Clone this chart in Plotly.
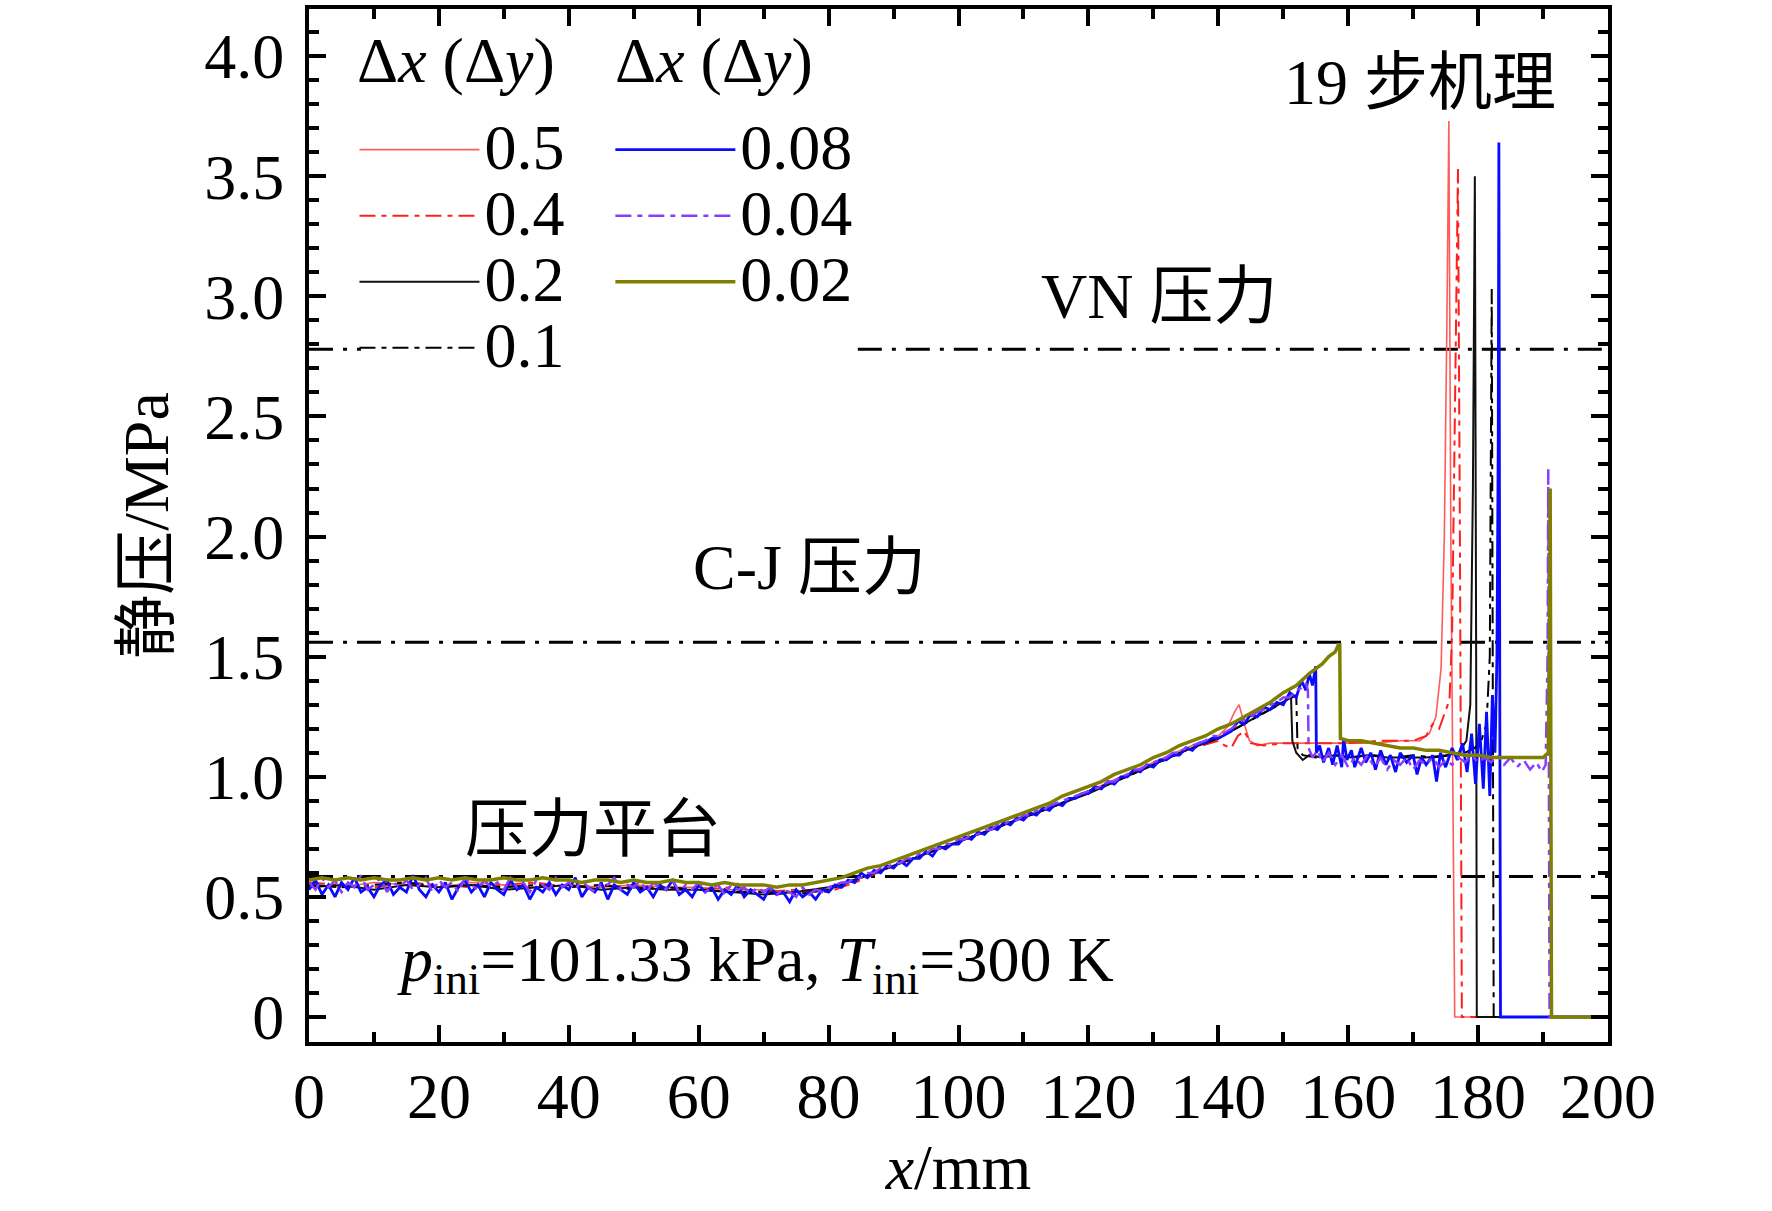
import plotly.graph_objects as go

# shared x grids (mm)
x_fine1 = [0, 1, 2, 3, 4, 5, 6, 7, 8, 9, 10, 11, 12, 13, 14, 15, 16, 17, 18, 19,
           20, 21, 22, 23, 24, 25, 26, 27, 28, 29, 30, 31, 32, 33, 34, 35, 36, 37, 38, 39,
           40, 41, 42, 43, 44, 45, 46, 47, 48, 49, 50, 51, 52, 53, 54, 55, 56, 57, 58, 59,
           60, 61, 62, 63, 64, 65, 66, 67, 68, 69, 70, 71, 72, 73, 74, 75, 76, 77, 78, 79,
           80, 81, 82, 83, 84, 85, 86, 87, 88, 89, 90, 91, 92, 93, 94, 95, 96, 97, 98, 99,
           100, 101, 102, 103, 104, 105, 106, 107, 108, 109, 110, 111, 112, 113, 114, 115, 116, 117, 118, 119,
           120, 121, 122, 123, 124, 125, 126, 127, 128, 129, 130, 131, 132, 133, 134, 135, 136, 137, 138, 139,
           140]
x_fine = [0, 2, 4, 6, 8, 10, 12, 14, 16, 18, 20, 22, 24, 26, 28, 30, 32, 34, 36, 38,
          40, 42, 44, 46, 48, 50, 52, 54, 56, 58, 60, 62, 64, 66, 68, 70, 72, 74, 76, 78,
          80, 82, 84, 86, 88, 90, 92, 94, 96, 98, 100, 102, 104, 106, 108, 110, 112, 114, 116, 118,
          120, 122, 124, 126, 128, 130, 132, 134, 136, 138, 140]
x_coarse = [0, 5, 10, 15, 20, 25, 30, 35, 40, 45, 50, 55, 60, 65, 70, 75, 80, 85, 90, 95,
            100, 105, 110, 115, 120, 125, 130, 135, 140]

# dx = 0.5 (red, solid)
p05_head = [0.55, 0.54, 0.56, 0.55, 0.54, 0.56, 0.55, 0.54, 0.55, 0.54,
            0.55, 0.54, 0.54, 0.53, 0.53, 0.52, 0.53, 0.58, 0.63, 0.68,
            0.73, 0.78, 0.83, 0.88, 0.94, 1.00, 1.06, 1.12, 1.17]
x05_tail = [141.5, 142.5, 143.2, 144, 144.8, 146, 148, 152, 156, 160, 164, 168, 171,
            172.5, 173.5, 174.3, 174.8, 175.2, 175.5, 175.8, 176.2, 176.4, 197.5]
p05_tail = [1.21, 1.27, 1.30, 1.22, 1.15, 1.13, 1.14, 1.14, 1.14, 1.14, 1.14, 1.15, 1.15,
            1.18, 1.25, 1.45, 2.0, 2.9, 3.73, 2.0, 0.6, 0, 0]

# dx = 0.4 (red, dash-dot)
p04_head = [0.56, 0.55, 0.54, 0.56, 0.55, 0.54, 0.55, 0.56, 0.54, 0.55,
            0.54, 0.54, 0.53, 0.54, 0.52, 0.53, 0.52, 0.57, 0.63, 0.68,
            0.73, 0.78, 0.83, 0.88, 0.94, 0.99, 1.05, 1.11, 1.15]
x04_tail = [141, 142, 143, 144, 145, 147, 150, 155, 160, 165, 170, 172, 173, 174, 175,
            175.6, 176.0, 176.4, 176.9, 177.2, 177.5, 197.5]
p04_tail = [1.13, 1.12, 1.17, 1.19, 1.14, 1.13, 1.14, 1.14, 1.14, 1.15, 1.15, 1.17, 1.22, 1.20, 1.27,
            1.32, 1.6, 2.5, 3.53, 2.0, 0, 0]

# dx = 0.2 (black, solid)
p02_head = [0.54, 0.55, 0.53, 0.55, 0.54, 0.55, 0.53, 0.54, 0.55, 0.53,
            0.54, 0.53, 0.53, 0.52, 0.51, 0.52, 0.54, 0.58, 0.63, 0.68,
            0.73, 0.78, 0.83, 0.88, 0.93, 0.99, 1.05, 1.11, 1.16]
x02_tail = [142, 144, 146, 148, 150, 151.2, 151.4, 152, 153, 154, 156, 158, 160, 163, 166, 169,
            172, 175, 177, 178.2, 178.8, 179.2, 179.5, 179.7, 179.8, 197.5]
p02_tail = [1.19, 1.22, 1.25, 1.28, 1.31, 1.33, 1.15, 1.10, 1.07, 1.09, 1.08, 1.09, 1.08, 1.09, 1.08, 1.08,
            1.08, 1.09, 1.10, 1.15, 1.3, 2.2, 3.50, 1.5, 0, 0]

# dx = 0.1 (black, dash-dot)
p01_head = [0.55, 0.54, 0.55, 0.56, 0.54, 0.55, 0.54, 0.55, 0.54, 0.55,
            0.53, 0.54, 0.53, 0.52, 0.52, 0.51, 0.53, 0.58, 0.63, 0.68,
            0.73, 0.78, 0.83, 0.88, 0.94, 0.99, 1.05, 1.11, 1.16]
x01_tail = [142, 144, 146, 148, 150, 152, 152.2, 153, 155, 158, 161, 164, 167, 170, 173, 176,
            178, 179.5, 180.5, 181.3, 181.8, 182.0, 182.1, 182.3, 182.4, 197.5]
p01_tail = [1.19, 1.22, 1.25, 1.28, 1.31, 1.34, 1.12, 1.09, 1.08, 1.09, 1.08, 1.09, 1.08, 1.09, 1.08, 1.09,
            1.10, 1.12, 1.15, 1.22, 1.5, 2.4, 3.03, 1.0, 0, 0]

# dx = 0.08 (blue)
p008_head = [0.53, 0.57, 0.51, 0.55, 0.50, 0.56, 0.53, 0.58, 0.52, 0.54,
             0.50, 0.55, 0.57, 0.51, 0.54, 0.52, 0.59, 0.53, 0.50, 0.55,
             0.52, 0.56, 0.49, 0.54, 0.57, 0.52, 0.55, 0.50, 0.56, 0.53,
             0.51, 0.57, 0.53, 0.55, 0.49, 0.54, 0.52, 0.56, 0.51, 0.55,
             0.53, 0.58, 0.50, 0.54, 0.52, 0.56, 0.49, 0.55, 0.53, 0.51,
             0.56, 0.52, 0.54, 0.50, 0.55, 0.53, 0.57, 0.51, 0.53, 0.50,
             0.55, 0.52, 0.54, 0.49, 0.53, 0.51, 0.55, 0.50, 0.53, 0.51,
             0.49, 0.54, 0.51, 0.52, 0.48, 0.53, 0.50, 0.52, 0.49, 0.53,
             0.52, 0.55, 0.54, 0.57, 0.56, 0.60, 0.58, 0.61, 0.60, 0.63,
             0.62, 0.65, 0.63, 0.66, 0.66, 0.69, 0.67, 0.71, 0.70, 0.72,
             0.72, 0.75, 0.74, 0.77, 0.76, 0.79, 0.78, 0.81, 0.80, 0.83,
             0.82, 0.85, 0.84, 0.87, 0.86, 0.89, 0.88, 0.91, 0.91, 0.93,
             0.93, 0.96, 0.95, 0.98, 0.97, 1.00, 1.00, 1.03, 1.02, 1.05,
             1.04, 1.07, 1.07, 1.09, 1.09, 1.12, 1.11, 1.14, 1.14, 1.16,
             1.16]
x008_tail = [142, 143, 144, 145, 146, 147, 148, 149, 150, 151, 152, 152.8, 153.5, 154, 154.5, 155,
             155.1, 155.6, 156.2, 157, 157.6, 158.3, 159, 159.3, 159.8, 160.5, 161, 162, 162.7, 163.5,
             164.2, 165, 165.8, 166.5, 167.3, 168, 169, 170, 170.6, 171.3, 172, 173, 173.6, 174.2,
             175, 176, 176.8, 177.6, 178.3, 179, 179.6, 180.2, 180.8, 181.3, 181.8, 182.2, 182.6,
             182.9, 183.1, 183.2, 183.35, 183.45, 197.5]
p008_tail = [1.19, 1.23, 1.22, 1.26, 1.25, 1.29, 1.28, 1.31, 1.30, 1.35, 1.33, 1.40, 1.36, 1.43, 1.38, 1.46,
             1.10, 1.13, 1.06, 1.12, 1.05, 1.13, 1.04, 1.16, 1.07, 1.11, 1.04, 1.12, 1.06, 1.10,
             1.03, 1.11, 1.05, 1.09, 1.02, 1.10, 1.06, 1.09, 1.01, 1.08, 1.05, 1.09, 0.98, 1.10,
             1.04, 1.12, 1.07, 1.14, 1.02, 1.18, 0.97, 1.22, 0.95, 1.27, 0.92, 1.34, 1.10,
             1.50, 2.4, 3.64, 1.2, 0, 0]

# dx = 0.04 (purple, dash-dot)
p004_head = [0.56, 0.53, 0.58, 0.54, 0.57, 0.52, 0.56, 0.54, 0.59, 0.53,
             0.55, 0.58, 0.52, 0.56, 0.54, 0.57, 0.53, 0.55, 0.58, 0.52,
             0.57, 0.54, 0.56, 0.52, 0.58, 0.55, 0.53, 0.57, 0.54, 0.56,
             0.53, 0.58, 0.54, 0.56, 0.52, 0.57, 0.55, 0.53, 0.58, 0.54,
             0.56, 0.53, 0.57, 0.54, 0.52, 0.56, 0.55, 0.58, 0.53, 0.55,
             0.54, 0.57, 0.52, 0.56, 0.54, 0.53, 0.57, 0.52, 0.55, 0.53,
             0.56, 0.52, 0.54, 0.55, 0.51, 0.55, 0.53, 0.54, 0.51, 0.54,
             0.52, 0.54, 0.51, 0.53, 0.52, 0.50, 0.54, 0.51, 0.53, 0.52,
             0.54, 0.55, 0.56, 0.56, 0.58, 0.58, 0.60, 0.60, 0.62, 0.62,
             0.64, 0.64, 0.66, 0.66, 0.68, 0.68, 0.70, 0.70, 0.72, 0.72,
             0.74, 0.74, 0.76, 0.76, 0.78, 0.78, 0.80, 0.80, 0.82, 0.82,
             0.84, 0.84, 0.86, 0.86, 0.88, 0.89, 0.90, 0.91, 0.92, 0.93,
             0.94, 0.95, 0.96, 0.98, 0.98, 1.00, 1.01, 1.03, 1.03, 1.05,
             1.06, 1.07, 1.08, 1.10, 1.10, 1.12, 1.13, 1.14, 1.15, 1.17,
             1.17]
x004_tail = [142, 143, 144, 145, 146, 147, 148, 149, 150, 151, 152, 152.8, 153.5, 153.8, 153.9,
             154.5, 155.3, 156, 157, 158, 159, 160, 161, 162, 163, 164, 165, 166, 167, 168, 169,
             170, 171, 172, 173, 174, 175, 176, 177, 178, 179, 180, 181, 182, 183, 184, 185, 186,
             187, 188, 189, 189.8, 190.4, 190.7, 190.8, 190.9, 191.0, 197.5]
p004_tail = [1.20, 1.22, 1.24, 1.25, 1.27, 1.28, 1.30, 1.31, 1.33, 1.33, 1.36, 1.37, 1.39, 1.36, 1.12,
             1.08, 1.11, 1.06, 1.10, 1.05, 1.09, 1.04, 1.08, 1.05, 1.09, 1.04, 1.08, 1.03, 1.07, 1.05, 1.08,
             1.03, 1.07, 1.05, 1.08, 1.04, 1.07, 1.05, 1.08, 1.06, 1.09, 1.06, 1.08, 1.06, 1.09, 1.05, 1.08, 1.04,
             1.07, 1.03, 1.06, 1.02, 1.05, 1.5, 2.28, 1.0, 0, 0]

# dx = 0.02 (olive)
p002_head = [0.57, 0.58, 0.57, 0.58, 0.57, 0.58, 0.57, 0.57, 0.58, 0.57,
             0.58, 0.57, 0.58, 0.57, 0.57, 0.58, 0.57, 0.57, 0.58, 0.57,
             0.57, 0.56, 0.57, 0.57, 0.56, 0.57, 0.56, 0.56, 0.57, 0.56,
             0.56, 0.55, 0.56, 0.55, 0.55, 0.55, 0.54, 0.55, 0.55, 0.56,
             0.57, 0.58, 0.60, 0.62, 0.63, 0.65, 0.67, 0.69, 0.71, 0.73,
             0.75, 0.77, 0.79, 0.81, 0.83, 0.85, 0.87, 0.89, 0.92, 0.94,
             0.96, 0.98, 1.01, 1.03, 1.05, 1.08, 1.10, 1.13, 1.15, 1.17,
             1.20]
x002_tail = [142, 144, 146, 148, 150, 152, 154, 155, 156, 157, 158, 158.5, 158.7, 158.8, 160, 162,
             164, 166, 168, 170, 172, 174, 176, 178, 180, 182, 184, 186, 188, 190, 190.8, 191.0,
             191.1, 191.2, 191.3, 197.5]
p002_tail = [1.22, 1.25, 1.28, 1.31, 1.35, 1.38, 1.43, 1.45, 1.47, 1.50, 1.52, 1.55, 1.55, 1.16, 1.15, 1.15,
             1.14, 1.13, 1.12, 1.12, 1.11, 1.11, 1.10, 1.09, 1.09, 1.08, 1.08, 1.08, 1.08, 1.08, 1.10, 1.6,
             2.20, 1.5, 0, 0]

# reference pressure levels (MPa); the VN line is hidden behind the legend in the middle
vn_x = [0, 8, None, 84.5, 200]
vn_p = [2.78, 2.78, None, 2.78, 2.78]
cj_x = [0, 200]
cj_p = [1.56, 1.56]
plat_x = [0, 200]
plat_p = [0.585, 0.585]

y_tick_vals = [0, 0.5, 1.0, 1.5, 2.0, 2.5, 3.0, 3.5, 4.0]
y_tick_text = ["0", "0.5", "1.0", "1.5", "2.0", "2.5", "3.0", "3.5", "4.0"]

for h, t, grid in [(p05_head, p05_tail, x_coarse), (p04_head, p04_tail, x_coarse),
                   (p02_head, p02_tail, x_coarse), (p01_head, p01_tail, x_coarse),
                   (p008_head, p008_tail, x_fine1), (p004_head, p004_tail, x_fine1),
                   (p002_head, p002_tail, x_fine)]:
    assert len(h) == len(grid), (len(h), len(grid))
assert len(x05_tail) == len(p05_tail)
assert len(x04_tail) == len(p04_tail)
assert len(x02_tail) == len(p02_tail)
assert len(x01_tail) == len(p01_tail)
assert len(x008_tail) == len(p008_tail), (len(x008_tail), len(p008_tail))
assert len(x004_tail) == len(p004_tail), (len(x004_tail), len(p004_tail))
assert len(x002_tail) == len(p002_tail), (len(x002_tail), len(p002_tail))

SERIF = "Liberation Serif, Times New Roman, Noto Sans CJK SC, serif"
FS = 64
BIG = '<span style="font-size:64px">%s</span>'
dashdot = "16px,6px,5px,6px"

fig = go.Figure()

# reference levels first so the curves sit on top
for xs, ys in [(vn_x, vn_p), (cj_x, cj_p), (plat_x, plat_p)]:
    fig.add_trace(go.Scatter(x=xs, y=ys, mode="lines", showlegend=False, hoverinfo="skip",
                             line=dict(color="black", width=3, dash="24px,10px,4px,10px")))

series = [
    ("0.5", x_coarse + x05_tail, p05_head + p05_tail, "#ff5c5c", "solid", 1.6, "legend"),
    ("0.4", x_coarse + x04_tail, p04_head + p04_tail, "#ff1f1f", dashdot, 2, "legend"),
    ("0.2", x_coarse + x02_tail, p02_head + p02_tail, "#111111", "solid", 2, "legend"),
    ("0.1", x_coarse + x01_tail, p01_head + p01_tail, "#000000", dashdot, 2, "legend"),
    ("0.08", x_fine1 + x008_tail, p008_head + p008_tail, "#0a0aff", "solid", 2.8, "legend2"),
    ("0.04", x_fine1 + x004_tail, p004_head + p004_tail, "#8a3cff", dashdot, 2.5, "legend2"),
    ("0.02", x_fine + x002_tail, p002_head + p002_tail, "#808000", "solid", 3.5, "legend2"),
]
for name, xs, ys, col, dash, w, lg in series:
    fig.add_trace(go.Scatter(x=xs, y=ys, mode="lines", name=BIG % name, legend=lg,
                             line=dict(color=col, width=w, dash=dash)))

common_legend = dict(yanchor="top", xanchor="left", bgcolor="rgba(255,255,255,0)",
                     font=dict(family=SERIF, size=48.5, color="black"), itemwidth=120)

fig.update_layout(
    width=1772, height=1211, autosize=False,
    margin=dict(l=309, r=164, t=5, b=169),
    plot_bgcolor="white", paper_bgcolor="white",
    font=dict(family=SERIF, size=FS, color="black"),
    legend=dict(x=0.035, y=0.9007, **common_legend),
    legend2=dict(x=0.232, y=0.9007, **common_legend),
)

fig.update_xaxes(
    range=[0, 200], tickmode="linear", tick0=0, dtick=20,
    ticks="inside", ticklen=17, tickwidth=3.5, tickcolor="black",
    minor=dict(ticks="inside", ticklen=10, tickwidth=3.5, dtick=10, tickcolor="black"),
    showline=True, linewidth=4, linecolor="black", mirror="ticks",
    showgrid=False, zeroline=False, ticklabelstandoff=-5,
    tickfont=dict(family=SERIF, size=FS),
    title=dict(text="<i>x</i>/mm", font=dict(family=SERIF, size=FS), standoff=8),
)
fig.update_yaxes(
    range=[-0.104, 4.196], tickvals=y_tick_vals, ticktext=y_tick_text,
    ticks="inside", ticklen=17, tickwidth=3.5, tickcolor="black",
    minor=dict(ticks="inside", ticklen=10, tickwidth=3.5, dtick=0.1, tick0=0, tickcolor="black"),
    showline=True, linewidth=4, linecolor="black", mirror="ticks",
    showgrid=False, zeroline=False, ticklabelstandoff=8,
    tickfont=dict(family=SERIF, size=FS),
    title=dict(text="静压/MPa", font=dict(family=SERIF, size=FS), standoff=16),
)

# legend column headers
for hx in [0.0355, 0.234]:
    fig.add_annotation(x=hx, y=0.9497, xref="paper", yref="paper", text="Δ<i>x</i> (Δ<i>y</i>)",
                       showarrow=False, xanchor="left", yanchor="middle",
                       font=dict(family=SERIF, size=FS, color="black"))

notes = [
    (171.1, 3.89, "19 步机理"),
    (130.9, 3.0, "VN 压力"),
    (77.0, 1.87, "C-J 压力"),
    (43.7, 0.78, "压力平台"),
    (68.7, 0.22, "<i>p</i><sub>ini</sub>=101.33 kPa, <i>T</i><sub>ini</sub>=300 K"),
]
for nx, ny, txt in notes:
    fig.add_annotation(x=nx, y=ny, text=txt, showarrow=False, xanchor="center", yanchor="middle",
                       font=dict(family=SERIF, size=FS, color="black"))

fig.write_html("out.html", config={"displayModeBar": False},
               post_script="document.body.style.margin='0px';")
